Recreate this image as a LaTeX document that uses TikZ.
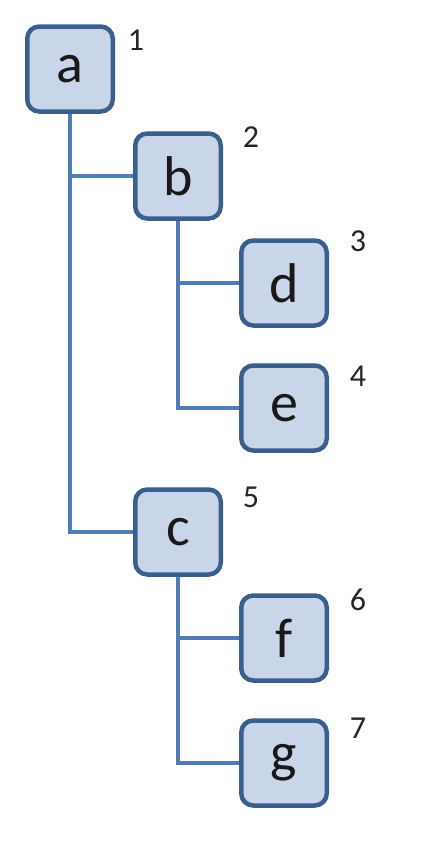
\documentclass[tikz,border=0pt]{standalone}
\usepackage{fontspec}
\setmainfont{Carlito}
\usetikzlibrary{backgrounds}
\definecolor{boxborder}{HTML}{3A5F8F}
\definecolor{boxfill}{HTML}{C9D5E8}
\definecolor{linkcol}{HTML}{4F7DB8}
\begin{document}
\begin{tikzpicture}[x=1pt,y=-1pt,
  treebox/.style={draw=boxborder,fill=boxfill,line width=4.5pt,rounded corners=12pt,
    minimum width=85.5pt,minimum height=85pt,inner sep=0pt,font=\fontsize{56}{62}\selectfont,text=black!90},
  numlabel/.style={font=\fontsize{32}{36}\selectfont,text=black!85,inner sep=0pt},
  link/.style={draw=linkcol,line width=4pt}]
\useasboundingbox (0,0) rectangle (446,846);
\node[treebox] (a) at (70,69) {a};
\node[treebox] (b) at (178,176) {b};
\node[treebox] (d) at (284,283) {d};
\node[treebox] (e) at (284,408) {e};
\node[treebox] (c) at (178,532) {c};
\node[treebox] (f) at (284,638) {f};
\node[treebox] (g) at (284,763) {g};
\node[numlabel] (n1) at (136,40) {1};
\node[numlabel] (n2) at (251,137) {2};
\node[numlabel] (n3) at (358,241) {3};
\node[numlabel] (n4) at (358,376) {4};
\node[numlabel] (n5) at (251,497) {5};
\node[numlabel] (n6) at (358,600) {6};
\node[numlabel] (n7) at (358,728) {7};
\begin{scope}[on background layer]
\draw[link] (a.south) -- (a.south |- c.west) -- (c.west);
\draw[link] (a.south |- b.west) -- (b.west);
\draw[link] (b.south) -- (b.south |- e.west) -- (e.west);
\draw[link] (b.south |- d.west) -- (d.west);
\draw[link] (c.south) -- (c.south |- g.west) -- (g.west);
\draw[link] (c.south |- f.west) -- (f.west);
\end{scope}
\end{tikzpicture}
\end{document}
